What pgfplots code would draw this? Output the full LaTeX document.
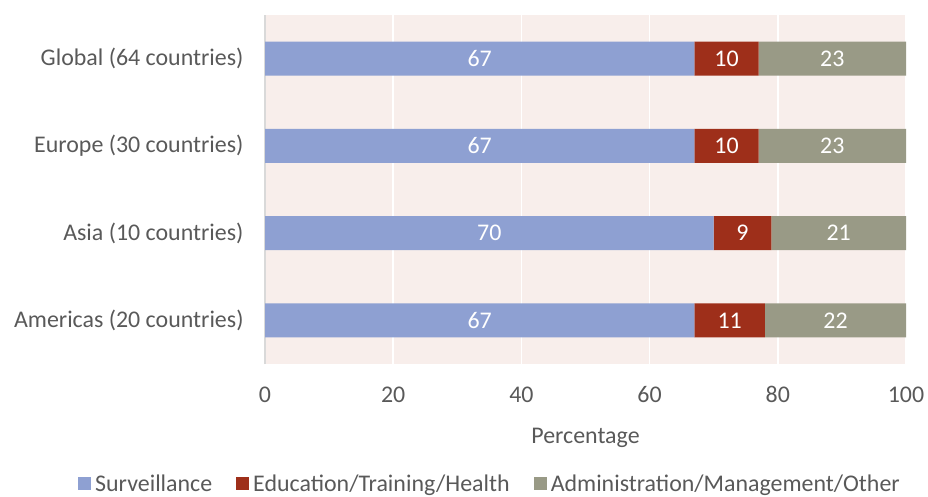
\documentclass[border=0pt]{standalone}
\usepackage{pgfplots}
\pgfplotsset{compat=1.18}
\usepackage{pgfplotstable}
\usepackage{fontspec}
\setmainfont{Carlito}

\definecolor{surv}{HTML}{8EA0D2}
\definecolor{edu}{HTML}{9E2F1A}
\definecolor{adm}{HTML}{999A86}
\definecolor{plotbg}{HTML}{F8EEEB}
\definecolor{txt}{HTML}{595959}
\definecolor{axl}{HTML}{D9D9D9}

% share of activities (percent) by region; pos 0 is the bottom bar
\pgfplotstableread{
pos surv edu adm
0   67   11  22
1   70   9   21
2   67   10  23
3   67   10  23
}\shares

\newcommand{\lblfont}{\fontsize{24}{28}\selectfont}

\begin{document}
\begin{tikzpicture}
\path[use as bounding box] (0,0) rectangle (928bp,497bp);
\begin{axis}[
  at={(265bp,133bp)}, anchor=south west,
  scale only axis, width=641bp, height=349bp,
  xbar stacked, bar width=34bp,
  xmin=0, xmax=100, ymin=-0.5, ymax=3.5,
  xtick={0,20,...,100}, ytick={0,1,2,3},
  yticklabels={Americas (20 countries), Asia (10 countries), Europe (30 countries), Global (64 countries)},
  axis background/.style={fill=plotbg},
  xmajorgrids, major grid style={white, line width=1.5bp},
  axis x line*=bottom, axis y line*=left,
  x axis line style={draw=none},
  y axis line style={axl, line width=2bp, -},
  major tick length=0pt,
  /pgf/number format/assume math mode=true,
  tick label style={font=\lblfont, text=txt},
  xticklabel style={yshift=-19bp},
  yticklabel style={xshift=-18bp},
  xlabel={Percentage},
  xlabel style={font=\lblfont, text=txt, yshift=-18bp},
  legend style={at={(0.351,-0.343)}, anchor=center, draw=none, fill=none,
    font=\lblfont, text=txt, legend columns=3,
    /tikz/every even column/.append style={column sep=22bp}},
  legend image code/.code={\fill[#1] (0bp,-6bp) rectangle (13bp,7bp); \path (15bp,0bp);},
  point meta=explicit,
  nodes near coords,
  nodes near coords style={font=\lblfont, text=white, anchor=center},
]
\addplot[fill=surv, draw=none] table[x=surv, y=pos, meta=surv] {\shares};
\addplot[fill=edu, draw=none] table[x=edu, y=pos, meta=edu] {\shares};
\addplot[fill=adm, draw=none] table[x=adm, y=pos, meta=adm] {\shares};
\legend{Surveillance, Education/Training/Health, Administration/Management/Other}
\end{axis}
\end{tikzpicture}
\end{document}
